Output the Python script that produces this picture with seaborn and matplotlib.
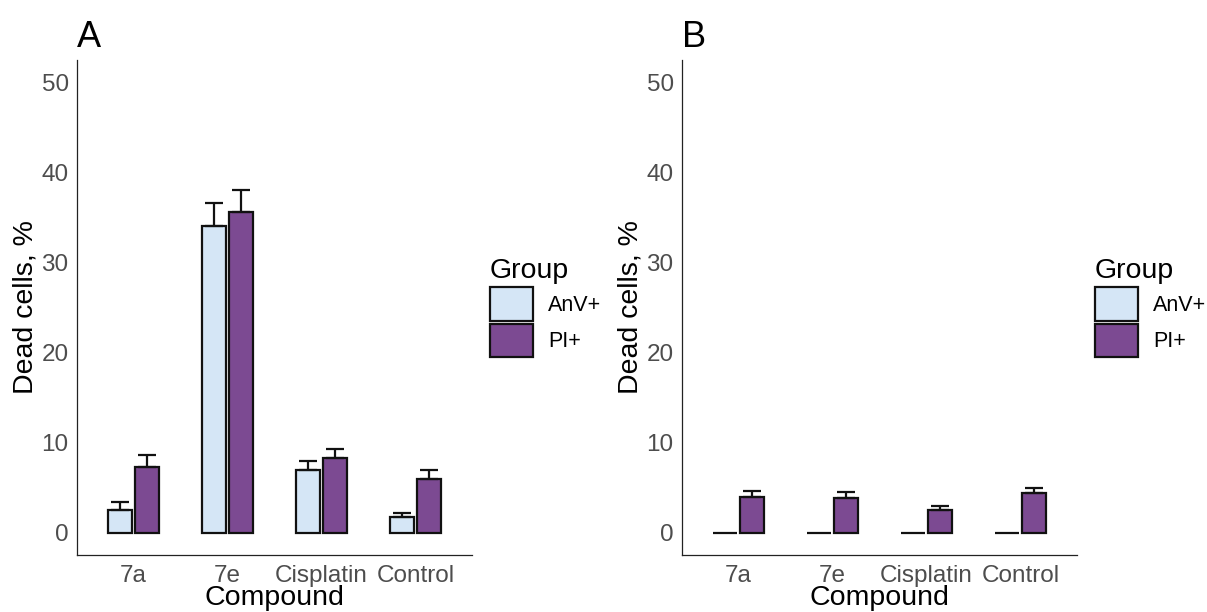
import numpy as np
import pandas as pd
import matplotlib
matplotlib.use('Agg')
import matplotlib.pyplot as plt
import seaborn as sns

# Values
compounds = ['7a', '7e', 'Cisplatin', 'Control']
groups = ['AnV+', 'PI+']

a_anv_mean = [2.55, 34.1, 7.0, 1.7]
a_anv_sd = [0.85, 2.5, 0.9, 0.5]
a_pi_mean = [7.3, 35.6, 8.3, 5.9]
a_pi_sd = [1.3, 2.5, 1.0, 1.0]

b_anv_mean = [0.0, 0.0, 0.0, 0.0]
b_anv_sd = [0.0, 0.0, 0.0, 0.0]
b_pi_mean = [4.0, 3.8, 2.55, 4.4]
b_pi_sd = [0.6, 0.65, 0.4, 0.6]

palette = {'AnV+': '#CFE6FC', 'PI+': '#813E9E'}
tick_grey = '#4D4D4D'


def make_frame(anv_mean, anv_sd, pi_mean, pi_sd):
    rows = []
    for i, c in enumerate(compounds):
        rows.append({'Compound': c, 'Group': 'AnV+', 'value': anv_mean[i], 'sd': anv_sd[i]})
        rows.append({'Compound': c, 'Group': 'PI+', 'value': pi_mean[i], 'sd': pi_sd[i]})
    return pd.DataFrame(rows)


def draw_panel(ax, df, letter, fig):
    sns.barplot(data=df, x='Compound', y='value', hue='Group', order=compounds,
                hue_order=groups, palette=palette, errorbar=None, width=0.58,
                gap=0.1, edgecolor='#111111', linewidth=1.6, ax=ax)

    # upper-only error bars at each bar's centre
    for container, g in zip(ax.containers, groups):
        sub = df[df['Group'] == g].set_index('Compound').loc[compounds]
        bars = sorted(container.patches, key=lambda p: p.get_x())
        for bar, (_, row) in zip(bars, sub.iterrows()):
            if row['sd'] <= 0:
                continue
            xc = bar.get_x() + bar.get_width() / 2
            ax.errorbar(xc, row['value'], yerr=[[0], [row['sd']]], fmt='none',
                        ecolor='#111111', elinewidth=1.6, capsize=6.5, capthick=1.6,
                        zorder=1)

    ax.set_ylim(-2.5, 52.5)
    ax.set_xlim(-0.6, 3.6)
    ax.set_yticks([0, 10, 20, 30, 40, 50])
    ax.set_xlabel('Compound', fontsize=20.5, color='black', labelpad=-1)
    ax.set_ylabel('Dead cells, %', fontsize=20.5, color='black', labelpad=2)
    ax.tick_params(axis='y', labelsize=17.5, colors=tick_grey, length=4, width=0.8,
                   pad=2)
    ax.tick_params(axis='x', labelsize=17.5, colors=tick_grey, length=4, width=0.8,
                   pad=3)
    for s in ['top', 'right']:
        ax.spines[s].set_visible(False)
    for s in ['left', 'bottom']:
        ax.spines[s].set_color('#222222')
        ax.spines[s].set_linewidth(0.9)

    sns.move_legend(ax, 'center left', bbox_to_anchor=(1.045, 0.5), title='Group',
                    frameon=False, fontsize=15.5, title_fontsize=20.5,
                    handlelength=2.0, handleheight=2.0, labelspacing=0.16,
                    handletextpad=0.7, borderaxespad=0, borderpad=0)
    leg = ax.get_legend()
    leg._legend_box.align = 'left'
    leg.get_title().set_color('black')
    for t in leg.get_texts():
        t.set_color('black')
    for h in leg.legend_handles:
        h.set_edgecolor('#111111')
        h.set_linewidth(1.6)

    pos = ax.get_position()
    fig.text(pos.x0, 1 - 47 / 612, letter, fontsize=26, color='black',
             ha='left', va='baseline')


sns.set_theme(style='white')
plt.rcParams['font.family'] = ['Liberation Sans', 'DejaVu Sans']

fig = plt.figure(figsize=(12.07, 6.12), dpi=100)
ax_a = fig.add_axes([77 / 1207, 1 - 555 / 612, 395 / 1207, 495 / 612])
ax_b = fig.add_axes([682 / 1207, 1 - 555 / 612, 395 / 1207, 495 / 612])

draw_panel(ax_a, make_frame(a_anv_mean, a_anv_sd, a_pi_mean, a_pi_sd), 'A', fig)
draw_panel(ax_b, make_frame(b_anv_mean, b_anv_sd, b_pi_mean, b_pi_sd), 'B', fig)

fig.savefig('out.png', dpi=100)
